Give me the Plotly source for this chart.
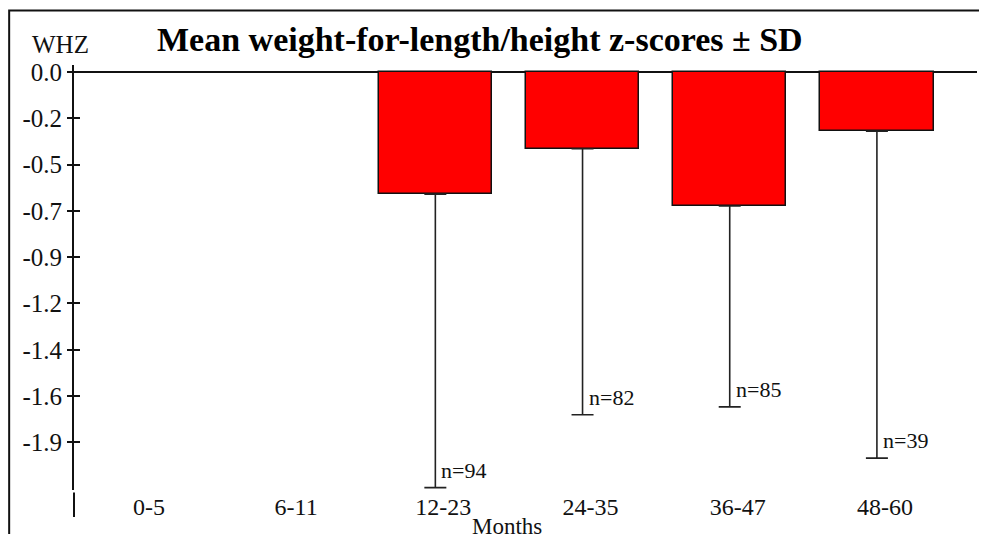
import plotly.graph_objects as go

categories = ["0-5", "6-11", "12-23", "24-35", "36-47", "48-60"]
mean_whz = [None, None, -0.62, -0.39, -0.68, -0.30]
sd_whz = [None, None, 1.49, 1.35, 1.02, 1.66]
n_counts = [None, None, 94, 82, 85, 39]
y_tick_vals = [0.0, -0.235, -0.47, -0.705, -0.94, -1.175, -1.41, -1.645, -1.88]
y_tick_text = ["0.0", "-0.2", "-0.5", "-0.7", "-0.9", "-1.2", "-1.4", "-1.6", "-1.9"]

SERIF = "Liberation Serif"
xidx = list(range(len(categories)))

fig = go.Figure()
fig.add_trace(go.Bar(
    x=xidx, y=mean_whz, width=0.77,
    marker=dict(color="#ff0000", line=dict(color="#111111", width=1.5)),
    error_y=dict(type="data", symmetric=False,
                 array=[0 if v is not None else None for v in sd_whz],
                 arrayminus=sd_whz, color="#222222", thickness=1.6, width=11),
    showlegend=False, hoverinfo="skip",
))
# helper trace for the inner tick axis
fig.add_trace(go.Scatter(x=[None], y=[None], yaxis="y2", showlegend=False))

for i, (m, s, n) in enumerate(zip(mean_whz, sd_whz, n_counts)):
    if m is None:
        continue
    fig.add_annotation(x=i, y=m - s, text=f"n={n}", showarrow=False,
                       xanchor="left", yanchor="bottom", xshift=4, yshift=3,
                       font=dict(family=SERIF, size=22, color="#111111"))

fig.add_annotation(xref="paper", yref="paper", x=0.4496, y=1.0605,
                   text="<b>Mean weight-for-length/height z-scores \u00b1 SD</b>",
                   showarrow=False, xanchor="center", yanchor="middle",
                   font=dict(family=SERIF, size=34, color="#000000"))
fig.add_annotation(xref="paper", yref="paper", x=-0.0155, y=1.048,
                   text="WHZ", showarrow=False, xanchor="center", yanchor="middle",
                   font=dict(family=SERIF, size=25, color="#111111"))
fig.add_annotation(xref="paper", yref="paper", x=0.4795, y=-0.051,
                   text="Months", showarrow=False, xanchor="center", yanchor="top",
                   font=dict(family=SERIF, size=23, color="#111111"))

# outer frame
fig.add_shape(type="rect", xref="paper", yref="paper",
              x0=-0.0718, x1=1.03, y0=-0.2, y1=1.128,
              line=dict(color="#111111", width=2), fillcolor="rgba(0,0,0,0)")
# lower extension of y axis line
fig.add_shape(type="line", xref="paper", yref="paper",
              x0=0, x1=0, y0=-0.006, y1=-0.0635,
              line=dict(color="#111111", width=2))

fig.update_layout(
    width=979, height=526,
    margin=dict(l=66, r=10, t=57, b=44),
    paper_bgcolor="white", plot_bgcolor="white",
    bargap=0,
    xaxis=dict(range=[-0.455, 5.68], tickmode="array", tickvals=xidx,
               ticktext=categories, showgrid=False, zeroline=False,
               showline=False, ticks="", ticklabelshift=8, ticklabelstandoff=0,
               tickfont=dict(family=SERIF, size=24, color="#111111")),
    yaxis=dict(range=[-2.122, 0.0355], tickmode="array", tickvals=y_tick_vals,
               ticktext=y_tick_text, showgrid=False, zeroline=True,
               zerolinecolor="#111111", zerolinewidth=1.5,
               showline=True, linecolor="#111111", linewidth=2,
               ticks="outside", ticklen=5, tickwidth=2, tickcolor="#111111",
               tickfont=dict(family=SERIF, size=25, color="#111111")),
    yaxis2=dict(range=[-2.122, 0.0355], overlaying="y", side="left", anchor="x",
                tickmode="array", tickvals=y_tick_vals, showticklabels=False,
                showgrid=False, zeroline=False, showline=False,
                ticks="inside", ticklen=6, tickwidth=2, tickcolor="#111111"),
)

fig.write_html("out.html")
